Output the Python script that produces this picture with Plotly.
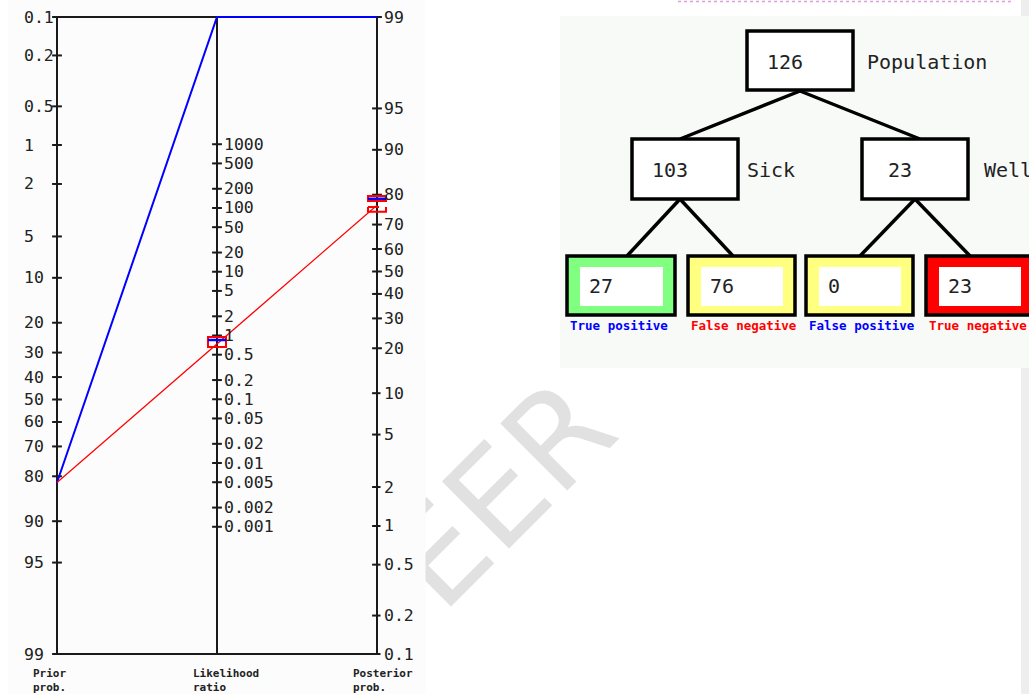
import math
import plotly.graph_objects as go

# ---------------- data ----------------
population = 126
sick = 103
well = 23
true_pos = 27
false_neg = 76
false_pos = 0
true_neg = 23

node_counts = [population, sick, well]
node_names = ["Population", "Sick", "Well"]
cell_counts = [true_pos, false_neg, false_pos, true_neg]
cell_names = ["True positive", "False negative", "False positive", "True negative"]
cell_fills = ["#80ff80", "#ffff80", "#ffff80", "#ff0000"]
cell_text_colors = ["#0000ff", "#ff0000", "#0000ff", "#ff0000"]

prior_ticks = [0.1, 0.2, 0.5, 1, 2, 5, 10, 20, 30, 40, 50, 60, 70, 80, 90, 95, 99]
lr_ticks = [1000, 500, 200, 100, 50, 20, 10, 5, 2, 1, 0.5, 0.2, 0.1, 0.05, 0.02,
            0.01, 0.005, 0.002, 0.001]
post_ticks = [99, 95, 90, 80, 70, 60, 50, 40, 30, 20, 10, 5, 2, 1, 0.5, 0.2, 0.1]

lr_neg_interval = [0.66, 0.95]      # red box on the likelihood-ratio axis
lr_mark = 0.85                      # blue mark on the likelihood-ratio axis
post_interval_upper = [78.1, 79.6]  # red box on the posterior axis
post_mark = 78.8                    # blue mark on the posterior axis
post_interval_lower = [74.6, 76.2]  # red bracket on the posterior axis

axis_titles = ["Prior<br>prob.", "Likelihood<br>ratio", "Posterior<br>prob."]
watermark_text = "EER"

# ---------------- derived values ----------------
prior_pct = sick / population * 100
sens = true_pos / sick
spec = true_neg / well
lr_pos = sens / (1 - spec) if spec < 1 else math.inf
lr_neg = (1 - sens) / spec
prior_odds = prior_pct / (100 - prior_pct)
post_neg = prior_odds * lr_neg / (1 + prior_odds * lr_neg) * 100
post_pos = 100.0 if math.isinf(lr_pos) else prior_odds * lr_pos / (1 + prior_odds * lr_pos) * 100


def logit(p):
    return math.log(p / (1 - p))


L_TOP = logit(0.001)
L_BOT = logit(0.99)
SPAN = L_BOT - L_TOP


def clamp(v):
    return min(max(v, 0.0), SPAN)


def y_prior(p):
    return clamp(logit(p / 100) - L_TOP)


def y_post(p):
    if p >= 100:
        return 0.0
    return clamp(L_BOT - logit(p / 100))


def y_lr(lr):
    if math.isinf(lr):
        return 0.0
    return clamp((SPAN - math.log(lr)) / 2)


# ---------------- figure ----------------
W, H = 1029, 694
X0PX, XUNIT = 57, 160          # pixel of left axis, pixels per axis step
Y0PX, Y1PX = 17, 654
YS = (Y1PX - Y0PX) / SPAN

fig = go.Figure()

AX = "#1a1a1a"
MONO = "DejaVu Sans Mono"

annotations = []

# faint diagonal watermark, partly hidden behind the nomogram panel
annotations.append(dict(text=watermark_text, x=500, y=494, xref="x2", yref="y2", showarrow=False,
                        textangle=-45, xanchor="center", yanchor="middle",
                        font=dict(family="DejaVu Sans", size=130, color="#e1e1e1")))
annotations.append(dict(text=" ", x=403, y=527, xref="x2", yref="y2", showarrow=False,
                        width=44, height=334, bgcolor="#fbfcfb", borderpad=0,
                        xanchor="center", yanchor="middle"))

# frame & three vertical scales
fx, fy = [], []
for xv in (0, 1, 2):
    fx += [xv, xv, None]
    fy += [0, SPAN, None]
fx += [0, 2, None, 0, 2]
fy += [0, 0, None, SPAN, SPAN]
fig.add_trace(go.Scatter(x=fx, y=fy, mode="lines", line=dict(color=AX, width=2),
                         hoverinfo="skip", cliponaxis=False, showlegend=False))

# ticks
tx = [0] * len(prior_ticks) + [1] * len(lr_ticks) + [2] * len(post_ticks)
ty = [y_prior(p) for p in prior_ticks] + [y_lr(v) for v in lr_ticks] + [y_post(p) for p in post_ticks]
fig.add_trace(go.Scatter(x=tx, y=ty, mode="markers",
                         marker=dict(symbol="line-ew", size=7, line=dict(color=AX, width=2)),
                         hoverinfo="skip", cliponaxis=False, showlegend=False))


def lab(text, x, y, shift, size=16, color="#222222", xref="x", yref="y", bold=False, anchor="left"):
    annotations.append(dict(text=("<b>%s</b>" % text) if bold else text, x=x, y=y,
                            xref=xref, yref=yref, showarrow=False, xanchor=anchor,
                            yanchor="middle", xshift=shift, align="left",
                            font=dict(family=MONO, size=size, color=color)))


def fmt(v):
    return ("%g" % v)


for p in prior_ticks:
    lab(fmt(p), 0, y_prior(p), -35, size=16.5)
for v in lr_ticks:
    lab(fmt(v), 1, y_lr(v), 5, size=16.5)
for p in post_ticks:
    lab(fmt(p), 2, y_post(p), 5, size=16.5)

# lines through the nomogram
fig.add_trace(go.Scatter(x=[0, 1, 2], y=[y_prior(prior_pct), y_lr(lr_pos), y_post(post_pos)],
                         mode="lines", line=dict(color="#0000ff", width=2),
                         hoverinfo="skip", cliponaxis=False, showlegend=False))
fig.add_trace(go.Scatter(x=[0, 1, 2], y=[y_prior(prior_pct), y_lr(lr_neg), y_post(post_neg)],
                         mode="lines", line=dict(color="#ff0000", width=1.2),
                         hoverinfo="skip", cliponaxis=False, showlegend=False))

shapes = []
HW = 9 / XUNIT
# interval markers
shapes.append(dict(type="rect", xref="x", yref="y", x0=1 - HW, x1=1 + HW,
                   y0=y_lr(lr_neg_interval[1]), y1=y_lr(lr_neg_interval[0]),
                   line=dict(color="#ff0000", width=2), fillcolor="rgba(0,0,0,0)", layer="above"))
shapes.append(dict(type="line", xref="x", yref="y", x0=1 - HW, x1=1 + HW,
                   y0=y_lr(lr_mark), y1=y_lr(lr_mark), line=dict(color="#0000ff", width=2.5), layer="above"))
shapes.append(dict(type="rect", xref="x", yref="y", x0=2 - HW, x1=2 + HW,
                   y0=y_post(post_interval_upper[1]), y1=y_post(post_interval_upper[0]),
                   line=dict(color="#ff0000", width=2), fillcolor="rgba(0,0,0,0)", layer="above"))
shapes.append(dict(type="line", xref="x", yref="y", x0=2 - HW, x1=2 + HW,
                   y0=y_post(post_mark), y1=y_post(post_mark), line=dict(color="#0000ff", width=2.5), layer="above"))
shapes.append(dict(type="path", xref="x", yref="y",
                   path="M %f %f L %f %f L %f %f L %f %f M %f %f L %f %f" % (
                       2 - HW, y_post(post_interval_lower[1]), 2 - HW, y_post(post_interval_lower[0]),
                       2 + HW, y_post(post_interval_lower[0]), 2 + HW, y_post(post_interval_lower[1]),
                       2 - HW, y_post(post_interval_lower[1]), 2 + 2 / XUNIT, y_post(post_interval_lower[1])),
                   line=dict(color="#ff0000", width=2), layer="above"))

# axis titles under the nomogram
for i, t in enumerate(axis_titles):
    lab(t, i, 680, -26, size=11, color="#222222", yref="y2", bold=True)

# ---------------- background panels (pixel layout) ----------------
bg = []
bg.append(dict(type="rect", xref="x2", yref="y2", x0=8, x1=425, y0=0, y1=694,
               fillcolor="#fbfcfb", line=dict(width=0), layer="below"))
bg.append(dict(type="rect", xref="x2", yref="y2", x0=560, x1=1029, y0=16, y1=368,
               fillcolor="#f8faf8", line=dict(width=0), layer="below"))
bg.append(dict(type="rect", xref="x2", yref="y2", x0=1021, x1=1029, y0=0, y1=16,
               fillcolor="#eeeeee", line=dict(width=0), layer="below"))
bg.append(dict(type="rect", xref="x2", yref="y2", x0=1021, x1=1029, y0=368, y1=694,
               fillcolor="#eeeeee", line=dict(width=0), layer="below"))
bg.append(dict(type="line", xref="x2", yref="y2", x0=678, x1=1013, y0=1.5, y1=1.5,
               line=dict(color="#d9a0d9", width=1.5, dash="dot"), layer="below"))

# ---------------- tree diagram ----------------
node_boxes = [(747, 853, 31, 90), (632, 738, 139, 199), (862, 968, 139, 199)]
node_name_x = [865, 745, 982]
cell_boxes = [(567, 675), (688, 795), (806, 913), (926, 1033)]
CELL_Y = (256, 315)
links = [((800, 91), (680, 139)), ((800, 91), (920, 139)),
         ((680, 199), (627, 256)), ((680, 199), (733, 256)),
         ((915, 199), (860, 256)), ((915, 199), (970, 256))]

tree = []
for (a, b) in links:
    tree.append(dict(type="line", xref="x2", yref="y2", x0=a[0], y0=a[1], x1=b[0], y1=b[1],
                     line=dict(color="#000000", width=3.5), layer="above"))
for i, (x0, x1, y0, y1) in enumerate(node_boxes):
    tree.append(dict(type="rect", xref="x2", yref="y2", x0=x0, x1=x1, y0=y0, y1=y1,
                     fillcolor="#ffffff", line=dict(color="#000000", width=3.5), layer="above"))
    lab(str(node_counts[i]), (x0 + x1) / 2 - 15, (y0 + y1) / 2 + 1, 0, size=20, color="#222222",
        xref="x2", yref="y2", anchor="center")
    lab(node_names[i], node_name_x[i], (y0 + y1) / 2 + 1, 0, size=20, color="#222222",
        xref="x2", yref="y2")
for i, (x0, x1) in enumerate(cell_boxes):
    y0, y1 = CELL_Y
    tree.append(dict(type="rect", xref="x2", yref="y2", x0=x0, x1=x1, y0=y0, y1=y1,
                     fillcolor=cell_fills[i], line=dict(color="#000000", width=3.5), layer="above"))
    tree.append(dict(type="rect", xref="x2", yref="y2", x0=x0 + 13, x1=x1 - 12, y0=y0 + 11, y1=y1 - 9,
                     fillcolor="#ffffff", line=dict(width=0), layer="above"))
    lab(str(cell_counts[i]), x0 + 20, (y0 + y1) / 2, 0, size=20, color="#222222", xref="x2", yref="y2")
    lab(cell_names[i], x0 + 1, 325, 0, size=12.5, color=cell_text_colors[i], xref="x2", yref="y2", bold=True)

fig.update_layout(
    width=W, height=H, margin=dict(l=0, r=0, t=0, b=0),
    paper_bgcolor="#ffffff", plot_bgcolor="rgba(0,0,0,0)",
    showlegend=False,
    xaxis=dict(domain=[0, 1], range=[-X0PX / XUNIT, (W - X0PX) / XUNIT], visible=False, fixedrange=True),
    yaxis=dict(domain=[0, 1], range=[(H - Y0PX) / YS, -Y0PX / YS], visible=False, fixedrange=True),
    xaxis2=dict(domain=[0, 1], range=[0, W], visible=False, overlaying="x", anchor="y2", fixedrange=True),
    yaxis2=dict(domain=[0, 1], range=[H, 0], visible=False, overlaying="y", anchor="x2", fixedrange=True),
    shapes=bg + shapes + tree,
    annotations=annotations,
)
fig.add_trace(go.Scatter(x=[None], y=[None], xaxis="x2", yaxis="y2", showlegend=False))

fig.write_html("out.html", config={"staticPlot": True},
               post_script="document.body.style.margin='0px';document.body.style.overflow='hidden';")
